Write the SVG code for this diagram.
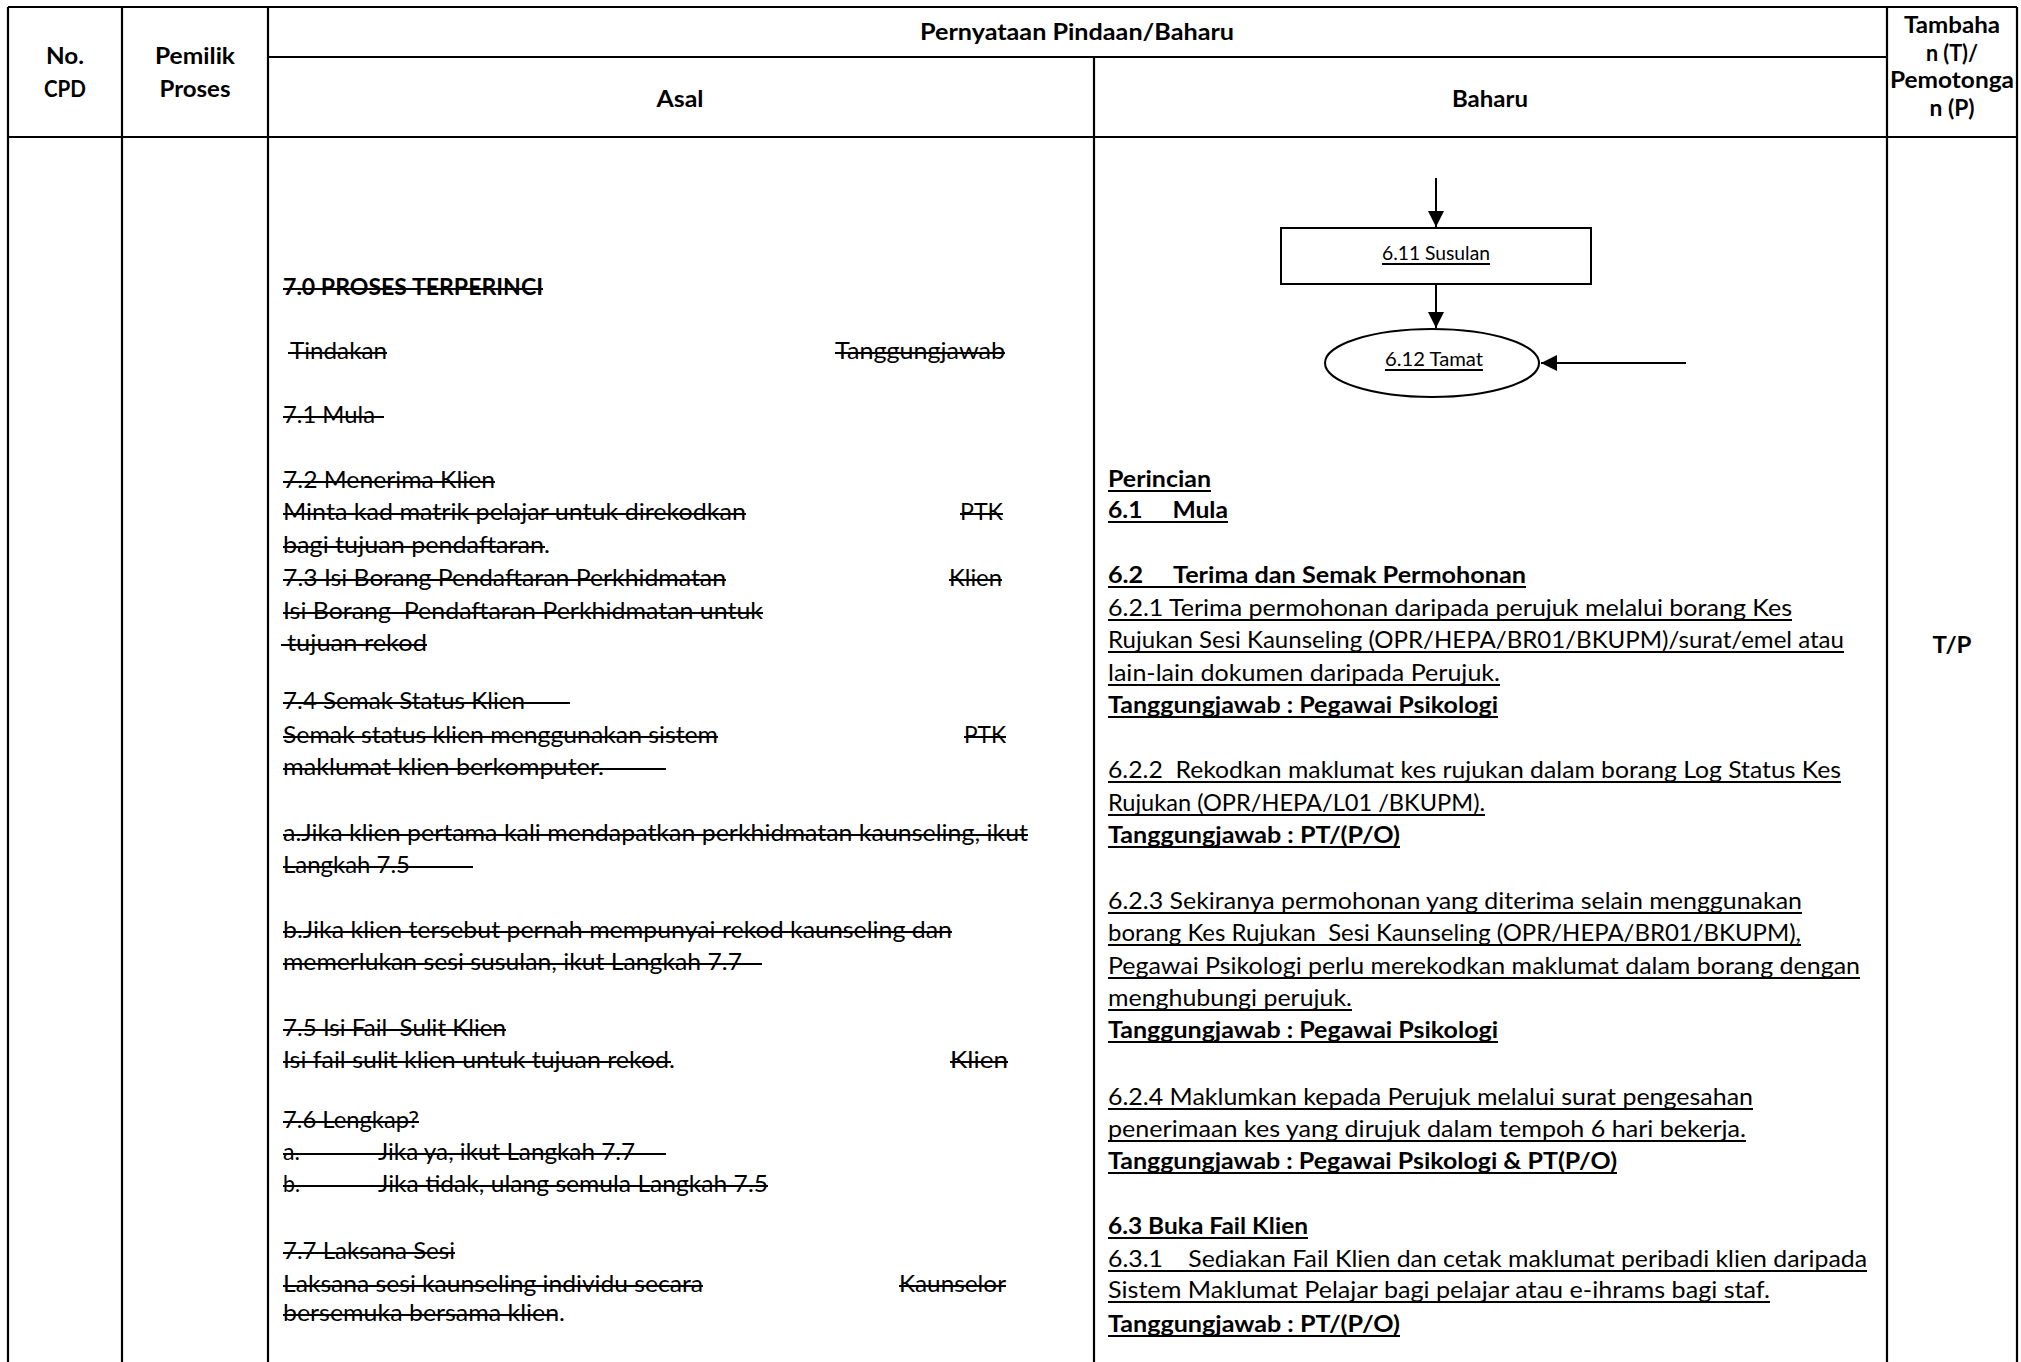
<svg xmlns="http://www.w3.org/2000/svg" width="2021" height="1362" viewBox="0 0 2021 1362">
<defs>
<style>
.t{font-family:Lato,'Liberation Sans',sans-serif;font-size:22.5px;fill:#000}
.b{font-weight:bold}
.m{text-anchor:middle}
.p{white-space:pre}
.sm{font-size:19.5px}
.grid{stroke:#000;stroke-width:2.2;fill:none}
.dec{stroke:#000;stroke-width:1.9;fill:none}
.node{stroke:#000;stroke-width:2;fill:#fff}
.conn{stroke:#000;stroke-width:2;fill:none;marker-end:url(#ah)}
</style>
<marker id="ah" markerUnits="userSpaceOnUse" markerWidth="16" markerHeight="16" refX="16" refY="8" orient="auto">
<path d="M0,0 L16,8 L0,16 Z" fill="#000"/>
</marker>
</defs>
<rect width="2021" height="1362" fill="#fff"/>

<g id="table">
<path class="grid" d="M8,7H2017 M8,7V1362 M2017,7V1362 M122,7V1362 M268,7V1362 M1887,7V1362 M1094,57V1362 M268,57H1887 M8,137H2017"/>
</g>

<g id="header">
<text class="t b m" x="65" y="64" textLength="38" lengthAdjust="spacingAndGlyphs">No.</text>
<text class="t b m" x="65" y="97" textLength="42" lengthAdjust="spacingAndGlyphs">CPD</text>
<text class="t b m" x="195" y="64" textLength="80" lengthAdjust="spacingAndGlyphs">Pemilik</text>
<text class="t b m" x="195" y="97" textLength="71" lengthAdjust="spacingAndGlyphs">Proses</text>
<text class="t b m" x="1077" y="40" textLength="314" lengthAdjust="spacingAndGlyphs">Pernyataan Pindaan/Baharu</text>
<text class="t b m" x="680" y="107" textLength="47" lengthAdjust="spacingAndGlyphs">Asal</text>
<text class="t b m" x="1490" y="107" textLength="76" lengthAdjust="spacingAndGlyphs">Baharu</text>
<text class="t b m" x="1952" y="33" textLength="96" lengthAdjust="spacingAndGlyphs">Tambaha</text>
<text class="t b m" x="1952" y="61" textLength="52" lengthAdjust="spacingAndGlyphs">n (T)/</text>
<text class="t b m" x="1952" y="88" textLength="124" lengthAdjust="spacingAndGlyphs">Pemotonga</text>
<text class="t b m" x="1952" y="116" textLength="45" lengthAdjust="spacingAndGlyphs">n (P)</text>
<text class="t b m" x="1952" y="653" textLength="39" lengthAdjust="spacingAndGlyphs">T/P</text>
</g>

<g id="asal">
<text class="t b" x="283" y="295" textLength="260" lengthAdjust="spacingAndGlyphs">7.0 PROSES TERPERINCI</text>
<text class="t" x="290" y="359" textLength="97" lengthAdjust="spacingAndGlyphs">Tindakan</text>
<text class="t" x="835" y="359" textLength="170" lengthAdjust="spacingAndGlyphs">Tanggungjawab</text>
<text class="t" x="283" y="423" textLength="92" lengthAdjust="spacingAndGlyphs">7.1 Mula</text>
<text class="t" x="283" y="488" textLength="212" lengthAdjust="spacingAndGlyphs">7.2 Menerima Klien</text>
<text class="t" x="283" y="520" textLength="463" lengthAdjust="spacingAndGlyphs">Minta kad matrik pelajar untuk direkodkan</text>
<text class="t" x="960" y="520" textLength="43" lengthAdjust="spacingAndGlyphs">PTK</text>
<text class="t" x="283" y="553" textLength="267" lengthAdjust="spacingAndGlyphs">bagi tujuan pendaftaran.</text>
<text class="t" x="283" y="586" textLength="443" lengthAdjust="spacingAndGlyphs">7.3 Isi Borang Pendaftaran Perkhidmatan</text>
<text class="t" x="949" y="586" textLength="53" lengthAdjust="spacingAndGlyphs">Klien</text>
<text class="t p" x="283" y="619" textLength="480" lengthAdjust="spacingAndGlyphs">Isi Borang  Pendaftaran Perkhidmatan untuk</text>
<text class="t" x="287" y="651" textLength="140" lengthAdjust="spacingAndGlyphs">tujuan rekod</text>
<text class="t" x="283" y="709" textLength="242" lengthAdjust="spacingAndGlyphs">7.4 Semak Status Klien</text>
<text class="t" x="283" y="743" textLength="435" lengthAdjust="spacingAndGlyphs">Semak status klien menggunakan sistem</text>
<text class="t" x="964" y="743" textLength="42" lengthAdjust="spacingAndGlyphs">PTK</text>
<text class="t" x="283" y="775" textLength="321" lengthAdjust="spacingAndGlyphs">maklumat klien berkomputer.</text>
<text class="t" x="283" y="841" textLength="745" lengthAdjust="spacingAndGlyphs">a.Jika klien pertama kali mendapatkan perkhidmatan kaunseling, ikut</text>
<text class="t" x="283" y="873" textLength="127" lengthAdjust="spacingAndGlyphs">Langkah 7.5</text>
<text class="t" x="283" y="938" textLength="669" lengthAdjust="spacingAndGlyphs">b.Jika klien tersebut pernah mempunyai rekod kaunseling dan</text>
<text class="t" x="283" y="970" textLength="459" lengthAdjust="spacingAndGlyphs">memerlukan sesi susulan, ikut Langkah 7.7</text>
<text class="t p" x="283" y="1036" textLength="223" lengthAdjust="spacingAndGlyphs">7.5 Isi Fail  Sulit Klien</text>
<text class="t" x="283" y="1068" textLength="392" lengthAdjust="spacingAndGlyphs">Isi fail sulit klien untuk tujuan rekod.</text>
<text class="t" x="950" y="1068" textLength="58" lengthAdjust="spacingAndGlyphs">Klien</text>
<text class="t" x="283" y="1128" textLength="136" lengthAdjust="spacingAndGlyphs">7.6 Lengkap?</text>
<text class="t" x="283" y="1160" textLength="17" lengthAdjust="spacingAndGlyphs">a.</text>
<text class="t" x="378" y="1160" textLength="257" lengthAdjust="spacingAndGlyphs">Jika ya, ikut Langkah 7.7</text>
<text class="t" x="283" y="1192" textLength="17" lengthAdjust="spacingAndGlyphs">b.</text>
<text class="t" x="378" y="1192" textLength="390" lengthAdjust="spacingAndGlyphs">Jika tidak, ulang semula Langkah 7.5</text>
<text class="t" x="283" y="1259" textLength="172" lengthAdjust="spacingAndGlyphs">7.7 Laksana Sesi</text>
<text class="t" x="283" y="1292" textLength="420" lengthAdjust="spacingAndGlyphs">Laksana sesi kaunseling individu secara</text>
<text class="t" x="899" y="1292" textLength="107" lengthAdjust="spacingAndGlyphs">Kaunselor</text>
<text class="t" x="283" y="1321" textLength="282" lengthAdjust="spacingAndGlyphs">bersemuka bersama klien.</text>
<path class="dec" d="M283,289H543 M288,353H387 M835,353H1005 M283,417H384 M283,482H495 M283,514H746 M960,514H1003 M283,547H545 M283,580H726 M949,580H1002 M283,613H763 M281,645H427 M283,703H570 M283,737H718 M964,737H1006 M283,769H666 M283,835H1028 M283,867H473 M283,932H952 M283,964H762 M283,1030H506 M283,1062H671 M950,1062H1008 M283,1122H419 M283,1154H666 M283,1186H768 M283,1253H455 M283,1286H703 M899,1286H1006 M283,1315H557"/>
</g>

<g id="baharu">
<text class="t b" x="1108" y="487" textLength="103" lengthAdjust="spacingAndGlyphs">Perincian</text>
<text class="t b p" x="1108" y="518" textLength="120" lengthAdjust="spacingAndGlyphs">6.1     Mula</text>
<text class="t b p" x="1108" y="583" textLength="418" lengthAdjust="spacingAndGlyphs">6.2     Terima dan Semak Permohonan</text>
<text class="t" x="1108" y="616" textLength="684" lengthAdjust="spacingAndGlyphs">6.2.1 Terima permohonan daripada perujuk melalui borang Kes</text>
<text class="t" x="1108" y="648" textLength="736" lengthAdjust="spacingAndGlyphs">Rujukan Sesi Kaunseling (OPR/HEPA/BR01/BKUPM)/surat/emel atau</text>
<text class="t" x="1108" y="681" textLength="392" lengthAdjust="spacingAndGlyphs">lain-lain dokumen daripada Perujuk.</text>
<text class="t b" x="1108" y="713" textLength="390" lengthAdjust="spacingAndGlyphs">Tanggungjawab : Pegawai Psikologi</text>
<text class="t p" x="1108" y="778" textLength="733" lengthAdjust="spacingAndGlyphs">6.2.2  Rekodkan maklumat kes rujukan dalam borang Log Status Kes</text>
<text class="t" x="1108" y="811" textLength="377" lengthAdjust="spacingAndGlyphs">Rujukan (OPR/HEPA/L01 /BKUPM).</text>
<text class="t b" x="1108" y="843" textLength="292" lengthAdjust="spacingAndGlyphs">Tanggungjawab : PT/(P/O)</text>
<text class="t" x="1108" y="909" textLength="694" lengthAdjust="spacingAndGlyphs">6.2.3 Sekiranya permohonan yang diterima selain menggunakan</text>
<text class="t p" x="1108" y="941" textLength="693" lengthAdjust="spacingAndGlyphs">borang Kes Rujukan  Sesi Kaunseling (OPR/HEPA/BR01/BKUPM),</text>
<text class="t" x="1108" y="974" textLength="752" lengthAdjust="spacingAndGlyphs">Pegawai Psikologi perlu merekodkan maklumat dalam borang dengan</text>
<text class="t" x="1108" y="1006" textLength="244" lengthAdjust="spacingAndGlyphs">menghubungi perujuk.</text>
<text class="t b" x="1108" y="1038" textLength="390" lengthAdjust="spacingAndGlyphs">Tanggungjawab : Pegawai Psikologi</text>
<text class="t" x="1108" y="1105" textLength="645" lengthAdjust="spacingAndGlyphs">6.2.4 Maklumkan kepada Perujuk melalui surat pengesahan</text>
<text class="t" x="1108" y="1137" textLength="638" lengthAdjust="spacingAndGlyphs">penerimaan kes yang dirujuk dalam tempoh 6 hari bekerja.</text>
<text class="t b" x="1108" y="1169" textLength="509" lengthAdjust="spacingAndGlyphs">Tanggungjawab : Pegawai Psikologi &amp; PT(P/O)</text>
<text class="t b" x="1108" y="1234" textLength="200" lengthAdjust="spacingAndGlyphs">6.3 Buka Fail Klien</text>
<text class="t p" x="1108" y="1267" textLength="759" lengthAdjust="spacingAndGlyphs">6.3.1    Sediakan Fail Klien dan cetak maklumat peribadi klien daripada</text>
<text class="t" x="1108" y="1298" textLength="662" lengthAdjust="spacingAndGlyphs">Sistem Maklumat Pelajar bagi pelajar atau e-ihrams bagi staf.</text>
<text class="t b" x="1108" y="1332" textLength="292" lengthAdjust="spacingAndGlyphs">Tanggungjawab : PT/(P/O)</text>
<path class="dec" d="M1108,491H1211 M1108,522H1228 M1108,587H1526 M1108,620H1792 M1108,652H1844 M1108,685H1500 M1108,717H1498 M1108,782H1841 M1108,815H1485 M1108,847H1400 M1108,913H1802 M1108,945H1801 M1108,978H1860 M1108,1010H1352 M1108,1042H1498 M1108,1109H1753 M1108,1141H1746 M1108,1173H1617 M1108,1238H1308 M1108,1271H1867 M1108,1302H1770 M1108,1336H1400"/>
</g>

<g id="connectors">
<path class="conn" d="M1436,178V227"/>
<path class="conn" d="M1436,284V328"/>
<path class="conn" d="M1686,363H1541"/>
</g>

<g id="node-susulan">
<rect class="node" x="1281" y="228" width="310" height="56"/>
<text class="t sm m" x="1436" y="260" textLength="108" lengthAdjust="spacingAndGlyphs">6.11 Susulan</text>
<path class="dec" d="M1382,264H1490"/>
</g>

<g id="node-tamat">
<ellipse class="node" cx="1432" cy="363" rx="107" ry="34"/>
<text class="t sm m" x="1434" y="366" textLength="98" lengthAdjust="spacingAndGlyphs">6.12 Tamat</text>
<path class="dec" d="M1385,370H1483"/>
</g>
</svg>
